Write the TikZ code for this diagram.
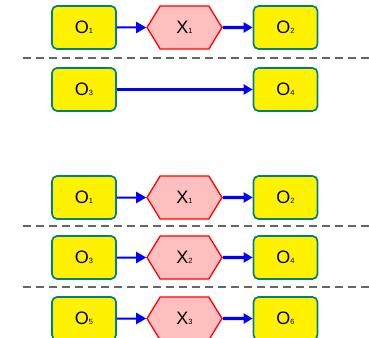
\documentclass[tikz,border=0pt]{standalone}
\usepackage{fontspec}
\setmainfont{Liberation Sans}
\usetikzlibrary{arrows.meta,shapes.symbols}

\definecolor{boxteal}{HTML}{008080}
\definecolor{hexpink}{HTML}{FFBFBF}

\newcommand{\lbl}[2]{#1{\fontsize{7.5}{7.5}\selectfont #2}}

\tikzset{
    obox/.style={draw=boxteal, line width=1.7pt, fill=yellow, rounded corners=5pt,
        minimum width=64pt, minimum height=43pt, inner sep=0pt, font=\fontsize{18}{18}\selectfont},
    xhex/.style={draw=red, line width=1.3pt, fill=hexpink, signal, signal to=east and west,
        signal pointer angle=117, minimum width=75pt, minimum height=43pt, inner sep=0pt,
        font=\fontsize{18}{18}\selectfont},
    inarrow/.style={blue, line width=2pt, -{Triangle[length=10pt,width=11pt]}},
    outarrow/.style={blue, line width=3.4pt, -{Triangle[length=9pt,width=10pt]}},
    sep/.style={black!60, line width=1.1pt, dash pattern=on 8pt off 5pt}
}

\begin{document}
\begin{tikzpicture}[x=1pt, y=-1pt]
    \useasboundingbox (0,0) rectangle (369,337);

    % First picture
    \node[obox] (a1) at (84,27.5) {\lbl{O}{1}};
    \node[xhex] (ax1) at (184.5,27.5) {\lbl{X}{1}};
    \node[obox] (a2) at (285.5,27.5) {\lbl{O}{2}};
    \draw[inarrow] (a1) -- (ax1);
    \draw[outarrow] (ax1) -- (a2);

    \draw[sep] (23,58) -- (369,58);

    \node[obox] (a3) at (84,89.5) {\lbl{O}{3}};
    \node[obox] (a4) at (285.5,89.5) {\lbl{O}{4}};
    \draw[outarrow] (a3) -- (a4);

    % Second picture
    \node[obox] (b1) at (84,197.5) {\lbl{O}{1}};
    \node[xhex] (bx1) at (184.5,197.5) {\lbl{X}{1}};
    \node[obox] (b2) at (285.5,197.5) {\lbl{O}{2}};
    \draw[inarrow] (b1) -- (bx1);
    \draw[outarrow] (bx1) -- (b2);

    \draw[sep] (23,226) -- (369,226);

    \node[obox] (b3) at (84,257.5) {\lbl{O}{3}};
    \node[xhex] (bx2) at (184.5,257.5) {\lbl{X}{2}};
    \node[obox] (b4) at (285.5,257.5) {\lbl{O}{4}};
    \draw[inarrow] (b3) -- (bx2);
    \draw[outarrow] (bx2) -- (b4);

    \draw[sep] (23,287) -- (369,287);

    \node[obox] (b5) at (84,318.5) {\lbl{O}{5}};
    \node[xhex] (bx3) at (184.5,318.5) {\lbl{X}{3}};
    \node[obox] (b6) at (285.5,318.5) {\lbl{O}{6}};
    \draw[inarrow] (b5) -- (bx3);
    \draw[outarrow] (bx3) -- (b6);
\end{tikzpicture}
\end{document}
